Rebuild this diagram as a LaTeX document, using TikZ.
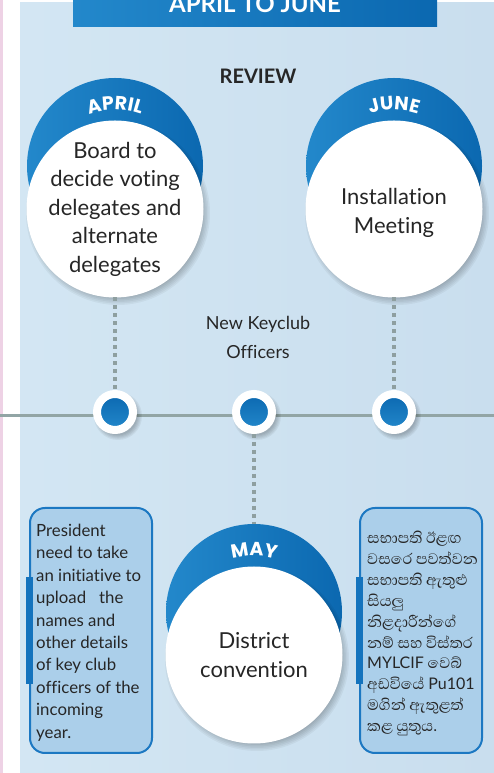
\documentclass[tikz,border=0pt]{standalone}
\usepackage{fontspec}
\setmainfont{Lato}[Ligatures=NoCommon]
\newfontfamily\latofont{Lato}[Ligatures=NoCommon]
\newfontfamily\sinhfont[Script=Sinhala]{Abhaya Libre}
\newfontfamily\monthfont[LetterSpace=14]{Poppins}
\usetikzlibrary{decorations.text}
\definecolor{panelL}{HTML}{D3E6F3}
\definecolor{panelR}{HTML}{C9DEEE}
\definecolor{bandL}{HTML}{2388CB}
\definecolor{bandR}{HTML}{0B68B0}
\definecolor{dashgray}{HTML}{8E9FA0}
\definecolor{linegray}{HTML}{92A5A5}
\definecolor{boxfill}{HTML}{ABCFEA}
\definecolor{boxline}{HTML}{1C78C2}
\definecolor{barblue}{HTML}{1473BD}
\definecolor{ink}{HTML}{262626}
\definecolor{pinkstrip}{HTML}{EED2E5}
\newcommand\mthlbl{\color{white}\monthfont\bfseries\fontsize{19}{19}\selectfont}
\newcommand\latin[1]{{\latofont\fontsize{16}{20.9}\selectfont #1}}
\pgfdeclarelayer{bg}
\pgfsetlayers{bg,main}
\tikzset{
  band/.style={rectangle,minimum width=364pt,minimum height=27pt,inner sep=0pt,left color=bandL,right color=bandR},
  bluedisc/.style={circle,minimum size=176pt,inner sep=0pt,outer sep=0pt,left color=bandL,right color=bandR},
  whitedisc/.style={circle,minimum size=177pt,inner sep=0pt,outer sep=0pt,fill=white},
  circtext/.style={align=center,text=ink,inner sep=0pt,font=\fontsize{22}{28.5}\selectfont},
  dot/.style={circle,minimum size=36pt,inner sep=0pt,outer sep=4pt,line width=8pt,draw=white,top color=bandR,bottom color=bandL},
  dashline/.style={dashgray,line width=4pt,dash pattern=on 4pt off 4pt},
  tline/.style={linegray,line width=3pt},
  infobox/.style={draw=boxline,line width=2pt,fill=boxfill,rounded corners=15pt,minimum width=122pt,minimum height=245pt},
  boxtext/.style={anchor=west,inner sep=0pt,align=left,text=ink,font=\fontsize{16.8}{22.4}\selectfont},
}
\begin{document}
\begin{tikzpicture}[x=1pt,y=1pt]
\useasboundingbox (0,0) rectangle (494,773);
\node[band] (ttl) at (255,759.5) {};
\node[anchor=base,text=white,font=\bfseries\fontsize{24}{24}\selectfont] (ttltxt) at (255,760) {APRIL TO JUNE};
\node[text=ink,font=\bfseries\fontsize{20}{20}\selectfont] (rev) at (258,697) {REVIEW};
% three months
\foreach \mx/\my/\nm/\lbl in {115/607/april/APRIL,394/607/june/JUNE,254/161/may/MAY}{
  \node[bluedisc] (\nm b) at (\mx,\my) {};
  \foreach \k in {0,...,5} \fill[black,opacity=0.045] (\mx+3,\my-47) circle ({(92-1.5*\k)*1pt}); % soft shadow
  \node[whitedisc] (\nm w) at (\mx,\my-43) {};
  \path[decorate,decoration={text along path,text={|\mthlbl|\lbl},text align=center}]
    (\mx,\my-20) ++(130:76) arc[start angle=130,end angle=50,radius=76];
}
\node[circtext] (aprilt) at (aprilw) {Board to\\decide voting\\delegates and\\alternate\\delegates};
\node[circtext] (junet) at ([yshift=-4pt]junew) {Installation\\Meeting};
\node[circtext] (mayt) at (mayw) {District\\convention};
\node[text=ink,align=center,font=\fontsize{18}{29}\selectfont] (newkc) at (258,436) {New Keyclub\\Officers};
% dots on the line
\foreach \nm/\mx in {d1/115,d2/254,d3/394}{
  \foreach \k in {0,...,4} \fill[black,opacity=0.05] (\mx+3,357) circle ({(24-1.2*\k)*1pt});
  \node[dot] (\nm) at (\mx,361) {};
}
\draw[dashline] (aprilw.south) -- (d1.north);
\draw[dashline] (junew.south) -- (d3.north);
\draw[dashline] (d2.south) -- (mayb.north);
% text boxes
\node[infobox] (lbox) at (91,142.5) {};
\node[infobox] (rbox) at (421,142.5) {};
\fill[barblue] ([xshift=-3pt,yshift=-53.5pt]lbox.west) rectangle ([xshift=4pt,yshift=53.5pt]lbox.west);
\fill[barblue] ([xshift=-3pt,yshift=-53.5pt]rbox.west) rectangle ([xshift=4pt,yshift=53.5pt]rbox.west);
\node[boxtext] (ltxt) at ([xshift=7pt,yshift=-2pt]lbox.west) {President\\need to take\\an initiative to\\upload~~~the\\names and\\other details\\of key club\\officers of the\\incoming\\year.};
\node[boxtext,font=\sinhfont\fontsize{19.5}{20.9}\selectfont] (rtxt) at ([xshift=8pt,yshift=-3pt]rbox.west)
  {සභාපති ඊළඟ\\වසරෙ පවත්වන\\සභාපති ඇතුළු\\සියලු\\නිළදාරීන්ගේ\\නම් සහ විස්තර\\\latin{MYLCIF} වෙබ්\\අඩවියේ \latin{Pu101}\\මගින් ඇතුළත්\\කළ යුතුය.};
% background
\begin{pgfonlayer}{bg}
\fill[pinkstrip] (0,0) rectangle (3,773);
\shade[left color=panelL,right color=panelR] (20,0) rectangle (494,770);
\coordinate (tl) at (0,357);
\coordinate (tr) at (494,357);
\draw[tline] (tl) -- (tr);
\end{pgfonlayer}
\end{tikzpicture}
\end{document}
